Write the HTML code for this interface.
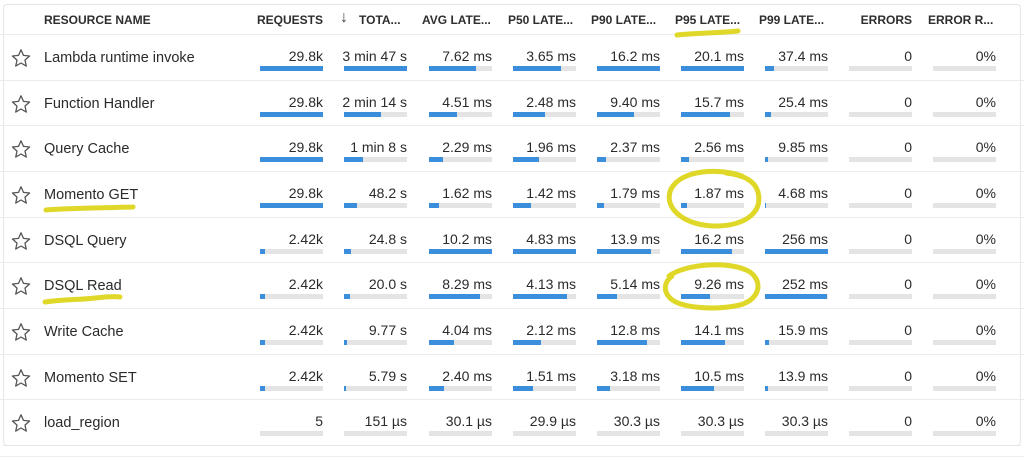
<!DOCTYPE html>
<html><head><meta charset="utf-8">
<style>
*{margin:0;padding:0;box-sizing:border-box}
html,body{width:1024px;height:460px;overflow:hidden;background:#fff;font-family:"Liberation Sans",Arial,sans-serif;color:#333}
.card{position:absolute;left:3px;top:4px;width:1018px;height:442px;border:1px solid #e6e6e6;border-radius:4px}
.h{position:absolute;top:13px;font-size:12px;font-weight:bold;line-height:14px;white-space:nowrap;color:#2e2e2e}
.row{position:absolute;left:0;width:1024px;height:46px;border-top:1px solid #ebebeb}
.st{position:absolute;left:10.5px;top:13px;width:20px;height:20px}
.n{position:absolute;left:44px;top:15px;font-size:14.5px;line-height:16px;white-space:nowrap;color:#2a2a2a}
.v{position:absolute;top:13px;width:90px;text-align:right;font-size:14px;line-height:16px;white-space:nowrap;color:#2a2a2a}
.b{position:absolute;top:31px;width:63px;height:5px;background:#e4e4e4}
.f{height:5px;background:#3b8edb}
</style></head><body>
<div class="card"></div>
<div style="position:absolute;left:0;top:456px;width:1024px;height:1px;background:#eeeeee"></div>

<div class="h" style="left:44px">RESOURCE NAME</div>
<div class="h" style="left:223px;width:100px;text-align:right">REQUESTS</div>
<div class="h" style="left:340px;font-weight:normal;font-size:16px;top:9px;line-height:18px;color:#444">↓</div>
<div class="h" style="left:359px">TOTA...</div>
<div class="h" style="left:422px">AVG LATE...</div>
<div class="h" style="left:508px">P50 LATE...</div>
<div class="h" style="left:591px">P90 LATE...</div>
<div class="h" style="left:675px">P95 LATE...</div>
<div class="h" style="left:759px">P99 LATE...</div>
<div class="h" style="left:812px;width:100px;text-align:right">ERRORS</div>
<div class="h" style="left:928px">ERROR R...</div>

<div class="row" style="top:34px">
<svg class="st" viewBox="0 0 20 20"><path d="M10,1.8 L12.47,7.4 L18.56,8.02 L13.99,12.1 L15.29,18.08 L10,15 L4.71,18.08 L6.01,12.1 L1.44,8.02 L7.53,7.4 Z" fill="none" stroke="#555" stroke-width="1.3" stroke-linejoin="round"/></svg>
<div class="n">Lambda runtime invoke</div>
<div class="v" style="left:233px">29.8k</div><div class="b" style="left:260px"><div class="f" style="width:100%"></div></div>
<div class="v" style="left:317px">3 min 47 s</div><div class="b" style="left:344px"><div class="f" style="width:100%"></div></div>
<div class="v" style="left:402px">7.62 ms</div><div class="b" style="left:429px"><div class="f" style="width:75%"></div></div>
<div class="v" style="left:486px">3.65 ms</div><div class="b" style="left:513px"><div class="f" style="width:76%"></div></div>
<div class="v" style="left:570px">16.2 ms</div><div class="b" style="left:597px"><div class="f" style="width:100%"></div></div>
<div class="v" style="left:654px">20.1 ms</div><div class="b" style="left:681px"><div class="f" style="width:100%"></div></div>
<div class="v" style="left:738px">37.4 ms</div><div class="b" style="left:765px"><div class="f" style="width:15%"></div></div>
<div class="v" style="left:822px">0</div><div class="b" style="left:849px"></div>
<div class="v" style="left:906px">0%</div><div class="b" style="left:933px"></div>
</div>

<div class="row" style="top:79.67px">
<svg class="st" viewBox="0 0 20 20"><path d="M10,1.8 L12.47,7.4 L18.56,8.02 L13.99,12.1 L15.29,18.08 L10,15 L4.71,18.08 L6.01,12.1 L1.44,8.02 L7.53,7.4 Z" fill="none" stroke="#555" stroke-width="1.3" stroke-linejoin="round"/></svg>
<div class="n">Function Handler</div>
<div class="v" style="left:233px">29.8k</div><div class="b" style="left:260px"><div class="f" style="width:100%"></div></div>
<div class="v" style="left:317px">2 min 14 s</div><div class="b" style="left:344px"><div class="f" style="width:59%"></div></div>
<div class="v" style="left:402px">4.51 ms</div><div class="b" style="left:429px"><div class="f" style="width:44%"></div></div>
<div class="v" style="left:486px">2.48 ms</div><div class="b" style="left:513px"><div class="f" style="width:51%"></div></div>
<div class="v" style="left:570px">9.40 ms</div><div class="b" style="left:597px"><div class="f" style="width:58%"></div></div>
<div class="v" style="left:654px">15.7 ms</div><div class="b" style="left:681px"><div class="f" style="width:78%"></div></div>
<div class="v" style="left:738px">25.4 ms</div><div class="b" style="left:765px"><div class="f" style="width:10%"></div></div>
<div class="v" style="left:822px">0</div><div class="b" style="left:849px"></div>
<div class="v" style="left:906px">0%</div><div class="b" style="left:933px"></div>
</div>

<div class="row" style="top:125.33px">
<svg class="st" viewBox="0 0 20 20"><path d="M10,1.8 L12.47,7.4 L18.56,8.02 L13.99,12.1 L15.29,18.08 L10,15 L4.71,18.08 L6.01,12.1 L1.44,8.02 L7.53,7.4 Z" fill="none" stroke="#555" stroke-width="1.3" stroke-linejoin="round"/></svg>
<div class="n">Query Cache</div>
<div class="v" style="left:233px">29.8k</div><div class="b" style="left:260px"><div class="f" style="width:100%"></div></div>
<div class="v" style="left:317px">1 min 8 s</div><div class="b" style="left:344px"><div class="f" style="width:30%"></div></div>
<div class="v" style="left:402px">2.29 ms</div><div class="b" style="left:429px"><div class="f" style="width:22%"></div></div>
<div class="v" style="left:486px">1.96 ms</div><div class="b" style="left:513px"><div class="f" style="width:41%"></div></div>
<div class="v" style="left:570px">2.37 ms</div><div class="b" style="left:597px"><div class="f" style="width:15%"></div></div>
<div class="v" style="left:654px">2.56 ms</div><div class="b" style="left:681px"><div class="f" style="width:13%"></div></div>
<div class="v" style="left:738px">9.85 ms</div><div class="b" style="left:765px"><div class="f" style="width:4%"></div></div>
<div class="v" style="left:822px">0</div><div class="b" style="left:849px"></div>
<div class="v" style="left:906px">0%</div><div class="b" style="left:933px"></div>
</div>

<div class="row" style="top:171px">
<svg class="st" viewBox="0 0 20 20"><path d="M10,1.8 L12.47,7.4 L18.56,8.02 L13.99,12.1 L15.29,18.08 L10,15 L4.71,18.08 L6.01,12.1 L1.44,8.02 L7.53,7.4 Z" fill="none" stroke="#555" stroke-width="1.3" stroke-linejoin="round"/></svg>
<div class="n">Momento GET</div>
<div class="v" style="left:233px">29.8k</div><div class="b" style="left:260px"><div class="f" style="width:100%"></div></div>
<div class="v" style="left:317px">48.2 s</div><div class="b" style="left:344px"><div class="f" style="width:21%"></div></div>
<div class="v" style="left:402px">1.62 ms</div><div class="b" style="left:429px"><div class="f" style="width:16%"></div></div>
<div class="v" style="left:486px">1.42 ms</div><div class="b" style="left:513px"><div class="f" style="width:29%"></div></div>
<div class="v" style="left:570px">1.79 ms</div><div class="b" style="left:597px"><div class="f" style="width:11%"></div></div>
<div class="v" style="left:654px">1.87 ms</div><div class="b" style="left:681px"><div class="f" style="width:9%"></div></div>
<div class="v" style="left:738px">4.68 ms</div><div class="b" style="left:765px"><div class="f" style="width:2%"></div></div>
<div class="v" style="left:822px">0</div><div class="b" style="left:849px"></div>
<div class="v" style="left:906px">0%</div><div class="b" style="left:933px"></div>
</div>

<div class="row" style="top:216.67px">
<svg class="st" viewBox="0 0 20 20"><path d="M10,1.8 L12.47,7.4 L18.56,8.02 L13.99,12.1 L15.29,18.08 L10,15 L4.71,18.08 L6.01,12.1 L1.44,8.02 L7.53,7.4 Z" fill="none" stroke="#555" stroke-width="1.3" stroke-linejoin="round"/></svg>
<div class="n">DSQL Query</div>
<div class="v" style="left:233px">2.42k</div><div class="b" style="left:260px"><div class="f" style="width:8%"></div></div>
<div class="v" style="left:317px">24.8 s</div><div class="b" style="left:344px"><div class="f" style="width:11%"></div></div>
<div class="v" style="left:402px">10.2 ms</div><div class="b" style="left:429px"><div class="f" style="width:100%"></div></div>
<div class="v" style="left:486px">4.83 ms</div><div class="b" style="left:513px"><div class="f" style="width:100%"></div></div>
<div class="v" style="left:570px">13.9 ms</div><div class="b" style="left:597px"><div class="f" style="width:86%"></div></div>
<div class="v" style="left:654px">16.2 ms</div><div class="b" style="left:681px"><div class="f" style="width:81%"></div></div>
<div class="v" style="left:738px">256 ms</div><div class="b" style="left:765px"><div class="f" style="width:100%"></div></div>
<div class="v" style="left:822px">0</div><div class="b" style="left:849px"></div>
<div class="v" style="left:906px">0%</div><div class="b" style="left:933px"></div>
</div>

<div class="row" style="top:262.33px">
<svg class="st" viewBox="0 0 20 20"><path d="M10,1.8 L12.47,7.4 L18.56,8.02 L13.99,12.1 L15.29,18.08 L10,15 L4.71,18.08 L6.01,12.1 L1.44,8.02 L7.53,7.4 Z" fill="none" stroke="#555" stroke-width="1.3" stroke-linejoin="round"/></svg>
<div class="n">DSQL Read</div>
<div class="v" style="left:233px">2.42k</div><div class="b" style="left:260px"><div class="f" style="width:8%"></div></div>
<div class="v" style="left:317px">20.0 s</div><div class="b" style="left:344px"><div class="f" style="width:9%"></div></div>
<div class="v" style="left:402px">8.29 ms</div><div class="b" style="left:429px"><div class="f" style="width:81%"></div></div>
<div class="v" style="left:486px">4.13 ms</div><div class="b" style="left:513px"><div class="f" style="width:86%"></div></div>
<div class="v" style="left:570px">5.14 ms</div><div class="b" style="left:597px"><div class="f" style="width:32%"></div></div>
<div class="v" style="left:654px">9.26 ms</div><div class="b" style="left:681px"><div class="f" style="width:46%"></div></div>
<div class="v" style="left:738px">252 ms</div><div class="b" style="left:765px"><div class="f" style="width:98%"></div></div>
<div class="v" style="left:822px">0</div><div class="b" style="left:849px"></div>
<div class="v" style="left:906px">0%</div><div class="b" style="left:933px"></div>
</div>

<div class="row" style="top:308px">
<svg class="st" viewBox="0 0 20 20"><path d="M10,1.8 L12.47,7.4 L18.56,8.02 L13.99,12.1 L15.29,18.08 L10,15 L4.71,18.08 L6.01,12.1 L1.44,8.02 L7.53,7.4 Z" fill="none" stroke="#555" stroke-width="1.3" stroke-linejoin="round"/></svg>
<div class="n">Write Cache</div>
<div class="v" style="left:233px">2.42k</div><div class="b" style="left:260px"><div class="f" style="width:8%"></div></div>
<div class="v" style="left:317px">9.77 s</div><div class="b" style="left:344px"><div class="f" style="width:4%"></div></div>
<div class="v" style="left:402px">4.04 ms</div><div class="b" style="left:429px"><div class="f" style="width:40%"></div></div>
<div class="v" style="left:486px">2.12 ms</div><div class="b" style="left:513px"><div class="f" style="width:44%"></div></div>
<div class="v" style="left:570px">12.8 ms</div><div class="b" style="left:597px"><div class="f" style="width:79%"></div></div>
<div class="v" style="left:654px">14.1 ms</div><div class="b" style="left:681px"><div class="f" style="width:70%"></div></div>
<div class="v" style="left:738px">15.9 ms</div><div class="b" style="left:765px"><div class="f" style="width:6%"></div></div>
<div class="v" style="left:822px">0</div><div class="b" style="left:849px"></div>
<div class="v" style="left:906px">0%</div><div class="b" style="left:933px"></div>
</div>

<div class="row" style="top:353.67px">
<svg class="st" viewBox="0 0 20 20"><path d="M10,1.8 L12.47,7.4 L18.56,8.02 L13.99,12.1 L15.29,18.08 L10,15 L4.71,18.08 L6.01,12.1 L1.44,8.02 L7.53,7.4 Z" fill="none" stroke="#555" stroke-width="1.3" stroke-linejoin="round"/></svg>
<div class="n">Momento SET</div>
<div class="v" style="left:233px">2.42k</div><div class="b" style="left:260px"><div class="f" style="width:8%"></div></div>
<div class="v" style="left:317px">5.79 s</div><div class="b" style="left:344px"><div class="f" style="width:2.5%"></div></div>
<div class="v" style="left:402px">2.40 ms</div><div class="b" style="left:429px"><div class="f" style="width:24%"></div></div>
<div class="v" style="left:486px">1.51 ms</div><div class="b" style="left:513px"><div class="f" style="width:31%"></div></div>
<div class="v" style="left:570px">3.18 ms</div><div class="b" style="left:597px"><div class="f" style="width:20%"></div></div>
<div class="v" style="left:654px">10.5 ms</div><div class="b" style="left:681px"><div class="f" style="width:52%"></div></div>
<div class="v" style="left:738px">13.9 ms</div><div class="b" style="left:765px"><div class="f" style="width:5%"></div></div>
<div class="v" style="left:822px">0</div><div class="b" style="left:849px"></div>
<div class="v" style="left:906px">0%</div><div class="b" style="left:933px"></div>
</div>

<div class="row" style="top:399.33px">
<svg class="st" viewBox="0 0 20 20"><path d="M10,1.8 L12.47,7.4 L18.56,8.02 L13.99,12.1 L15.29,18.08 L10,15 L4.71,18.08 L6.01,12.1 L1.44,8.02 L7.53,7.4 Z" fill="none" stroke="#555" stroke-width="1.3" stroke-linejoin="round"/></svg>
<div class="n">load_region</div>
<div class="v" style="left:233px">5</div><div class="b" style="left:260px"></div>
<div class="v" style="left:317px">151 µs</div><div class="b" style="left:344px"></div>
<div class="v" style="left:402px">30.1 µs</div><div class="b" style="left:429px"></div>
<div class="v" style="left:486px">29.9 µs</div><div class="b" style="left:513px"></div>
<div class="v" style="left:570px">30.3 µs</div><div class="b" style="left:597px"></div>
<div class="v" style="left:654px">30.3 µs</div><div class="b" style="left:681px"></div>
<div class="v" style="left:738px">30.3 µs</div><div class="b" style="left:765px"></div>
<div class="v" style="left:822px">0</div><div class="b" style="left:849px"></div>
<div class="v" style="left:906px">0%</div><div class="b" style="left:933px"></div>
</div>
<div style="position:absolute;left:3px;top:445px;width:1018px;height:1px;background:#e6e6e6"></div>

<svg style="position:absolute;left:0;top:0" width="1024" height="460" viewBox="0 0 1024 460">
<g fill="none" stroke="#ddd61e" stroke-width="5" stroke-linecap="round" stroke-linejoin="round" opacity="0.95">
<path d="M677 35 C 695 33, 720 33, 738 31"/>
<path d="M46 210 C 70 208, 105 208, 133 207"/>
<path d="M45 302 C 65 299, 80 300, 95 298 C 105 297, 113 296, 120 297"/>
<path d="M742 176 C 720 168, 682 169, 671 189 C 662 210, 688 227, 718 226 C 746 225, 763 212, 758 192 C 755 181, 744 175, 726 173"/>
<path d="M669 276 C 685 264, 730 260, 750 272 C 764 282, 760 302, 735 306 C 712 310, 680 308, 670 298 C 663 291, 664 282, 672 276"/>
</g>
</svg>
</body></html>
